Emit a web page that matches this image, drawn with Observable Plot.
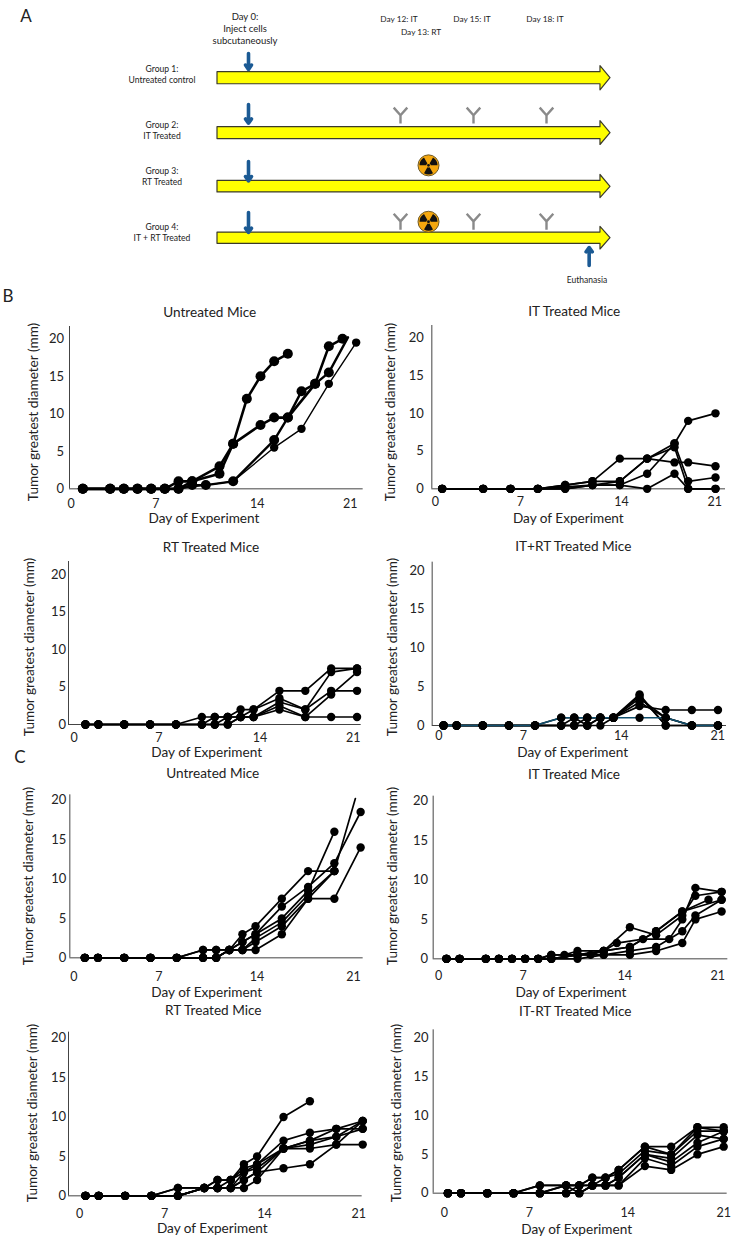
<!DOCTYPE html>
<html><head><meta charset="utf-8">
<script src="https://cdn.jsdelivr.net/npm/d3@7"></script>
<script src="https://cdn.jsdelivr.net/npm/@observablehq/plot@0.6"></script>
<style>
html,body{margin:0;padding:0;background:#fff}
#root{position:relative;width:735px;height:1240px;overflow:hidden;font-family:Lato,"Noto Sans",sans-serif;color:#222}
.t{position:absolute;white-space:nowrap;line-height:1;transform:translate(-50%,-50%)}
</style></head><body><div id="root"></div>
<script>
// ---------- Panel A: treatment schedule ----------
const groupNames = [["Group 1:","Untreated control"],["Group 2:","IT Treated"],["Group 3:","RT Treated"],["Group 4:","IT + RT Treated"]];
const groups = [1,2,3,4];
const injectDay = 0;
const itDays = [12,15,18];
const rtDay = 13;
const euthanasiaDay = 20;
const itGroups = [2,4];
const rtGroups = [3,4];
const rtLift = [.4,.32];
const arrowOutline = [{day:-2.5,half:.11},{day:20.53,half:.11},{day:20.53,half:.22},{day:21,half:0}];
const injectTop = [.45,.52,.47,.5];
const injectEnd = [.16,.18,.11,.11];

// ---------- Panels B and C: tumor diameter per mouse (mm) ----------
const b1Days = [1,3,4,5,6,7,8,9,10,11,12,13,14,15,16,17,18,19,20,20.4,21];
const b1Mice = [
 [0,0,0,0,0,0,1,1,null,3,6,12,15,17,18,null,null,null,null,null,null],
 [0,0,0,0,0,0,0,1,null,2,6,null,8.5,9.5,9.5,null,14,19,20,null,null],
 [0,0,0,0,0,0,0,.5,.5,null,1,null,null,6.5,9.5,13,14,15.5,null,20.2,null],
 [0,0,0,0,0,0,0,null,.5,null,1,null,null,5.5,null,8,null,14,null,null,19.5]];
const b2Days = [1,4,6,8,10,12,14,16,18,19,21];
const b2Mice = [
 [0,0,0,0,.5,1,4,4,5.5,0,0],
 [0,0,0,0,.25,.5,1,4,3.5,3.5,3],
 [0,0,0,0,0,.5,.5,2,6,9,10],
 [0,0,0,0,0,.5,.5,0,2,0,0],
 [0,0,0,0,.5,1,1,4,6,1,1.5]];
const b3Days = [1,2,4,6,8,10,11,12,13,14,16,18,20,22];
const b3Mice = [
 [0,0,0,0,0,1,1,1,2,2,4.5,4.5,7.5,7.5],
 [0,0,0,0,0,0,1,1,1,2,3.5,2,7,7.5],
 [0,0,0,0,0,0,0,1,1,1,3,2,4.5,4.5],
 [0,0,0,0,0,0,0,0,1,1,2.5,1,4,7],
 [0,0,0,0,0,0,0,0,1,1,2,1,1,1]];
const b4Days = [1,2,4,6,8,10,11,12,13,14,16,18,20,22];
const b4Mice = [
 [0,0,0,0,0,1,1,1,1,1,2.5,2,2,2],
 [0,0,0,0,0,0,0,1,1,1,4,0,0,0],
 [0,0,0,0,0,0,0,0,0,1,3.5,1,0,0],
 [0,0,0,0,0,0,0,0,1,1,3.8,0,0,0],
 [0,0,0,0,0,0,1,0,1,1,3,1,0,0],
 [0,0,0,0,0,1,1,1,1,1,1,1,0,0]];
const c1Days = [1,2,4,6,8,10,11,12,13,14,16,18,20,21.6,22];
const c1Mice = [
 [0,0,0,0,0,1,1,1,3,4,7.5,11,11,null,null],
 [0,0,0,0,0,1,1,1,2,3,6.5,9,12,null,18.5],
 [0,0,0,0,0,0,0,1,2,3,5,8.5,16,null,null],
 [0,0,0,0,0,0,0,1,1,2.5,4.5,8,11,20.2,null],
 [0,0,0,0,0,0,0,1,1,2,4,7.5,7.5,null,14],
 [0,0,0,0,0,0,0,1,1,1,3,7.5,11,null,null]];
const c2Days = [1,2,4,5,6,7,8,9,10,11,12,13,14,15,16,17,18,19,20,21,22];
const c2Mice = [
 [0,0,0,0,0,0,0,.5,.5,1,null,1,null,4,null,3,null,5.5,8,null,8.5],
 [0,0,0,0,0,0,0,.5,null,.5,null,1,2,null,2.5,null,2.5,5,9,null,8.5],
 [0,0,0,0,0,0,0,0,null,.5,null,1,null,1.5,null,3.5,null,6,null,7.5,null],
 [0,0,0,0,0,0,0,0,null,.5,null,.5,null,1,null,1.5,null,3.5,5.5,null,7.5],
 [0,0,0,0,0,0,0,0,null,0,null,.5,null,.5,null,1,null,2,5,null,6],
 [0,0,0,0,0,0,0,0,null,.5,.5,1,null,1.5,null,3.5,null,6,null,null,7.5]];
const c3Days = [1,2,4,6,8,10,11,12,13,14,16,18,20,22];
const c3Mice = [
 [0,0,0,0,1,1,2,2,4,5,10,12,null,null],
 [0,0,0,0,1,1,2,2,3.5,4,7,8,8.5,8.5],
 [0,0,0,0,0,1,1,2,3,4,6,7,8.5,9.5],
 [0,0,0,0,0,1,1,1,3,3.5,6,6.5,7.5,9.5],
 [0,0,0,0,0,1,1,1,2,3,6,6,6.5,6.5],
 [0,0,0,0,0,1,1,1,2,3,3.5,4,6.5,9.5],
 [0,0,0,0,0,1,1,1,1,2,6,7,7.5,8.5]];
const c4Days = [1,2,4,6,8,10,11,12,13,14,16,18,20,22];
const c4Mice = [
 [0,0,0,0,1,1,1,2,2,3,6,6,8.5,8.5],
 [0,0,0,0,1,1,1,2,2,3,6,5,8.5,8],
 [0,0,0,0,0,1,1,1,2,2.5,5.5,5,8,8],
 [0,0,0,0,0,1,0,1,1,2,5,4.5,7.5,7],
 [0,0,0,0,0,0,1,1,1,2,5,4,6.5,8],
 [0,0,0,0,0,0,0,1,1,1,4.5,3.5,6,7],
 [0,0,0,0,0,0,0,1,1,1,3.5,3,5,6]];

const xLabels = ["0","7","14","21"];
const yTicks = [0,5,10,15,20];
const yName = "Tumor greatest diameter (mm)";
const xName = "Day of Experiment";

const root = document.getElementById("root");
function label(text,x,y,size,rot){
  const d=document.createElement("div");d.className="t";d.textContent=text;
  d.style.left=x+"px";d.style.top=y+"px";d.style.fontSize=size+"px";
  if(rot)d.style.transform="translate(-50%,-50%) rotate(-90deg)";
  root.appendChild(d);
}

// ---------- Panel A drawing ----------
const antibody = {draw(c,size){const r=Math.sqrt(size/Math.PI);
  c.moveTo(0,r);c.lineTo(0,-r*.05);c.moveTo(-r*.85,-r);c.lineTo(0,-r*.05);c.lineTo(r*.85,-r);}};
const trefoil = {draw(c,size){const r=Math.sqrt(size/Math.PI),a=Math.PI/6,ri=r*.24;
  for(const m of [Math.PI/2,Math.PI*7/6,Math.PI*11/6]){
    c.moveTo(ri*Math.cos(m-a),ri*Math.sin(m-a));
    c.arc(0,0,r,m-a,m+a);
    c.arc(0,0,ri,m+a,m-a,true);
    c.closePath();
  }
  c.moveTo(r*.16,0);c.arc(0,0,r*.16,0,2*Math.PI);}};

const barRows = groups.flatMap(g=>arrowOutline.map(p=>({g,day:p.day,y1:g-p.half,y2:g+p.half})));
const itMarks = itGroups.flatMap(g=>itDays.map(day=>({g,day})));
const rtMarks = rtGroups.map((g,i)=>({g,day:rtDay,lift:rtLift[i]}));
const schedule = Plot.plot({
  width:735,height:295,margin:0,
  style:{position:"absolute",left:"0px",top:"0px",background:"transparent"},
  x:{type:"linear",domain:[-2.5,0,12,13,15,18,21],range:[217,248,400,428,473,546,610],axis:null},
  y:{type:"linear",domain:groups,range:[77.7,132.7,186.3,237.7],axis:null},
  marks:[
    Plot.area(barRows,{x1:"day",y1:"y1",y2:"y2",z:"g",fill:"#ffff00",stroke:"#3a3a2a",strokeWidth:1.2}),
    Plot.arrow(groups,{x:()=>injectDay,y1:(g,i)=>g-injectTop[i],y2:(g,i)=>g-injectEnd[i],stroke:"#1b5a94",strokeWidth:3.6,headLength:2.2,headAngle:70,bend:0,inset:0}),
    Plot.arrow([4],{x:()=>euthanasiaDay,y1:g=>g+.53,y2:g=>g+.18,stroke:"#1b5a94",strokeWidth:3.6,headLength:2.2,headAngle:70,bend:0,inset:0}),
    Plot.dot(itMarks,{x:"day",y:d=>d.g-.32,r:8,symbol:antibody,fill:"none",stroke:"#8a8a8a",strokeWidth:2.4}),
    Plot.dot(rtMarks,{x:"day",y:d=>d.g-d.lift,r:10.5,fill:"#f5a70e",stroke:"#6e5a28",strokeWidth:1}),
    Plot.dot(rtMarks,{x:"day",y:d=>d.g-d.lift,r:9,symbol:trefoil,fill:"#111",stroke:"none"})
  ]
});
root.appendChild(schedule);

label("A",26,15,17);
label("B",8,295,17);
label("C",20,756,17);
label("Day 0:",245,17,9.5);
label("Inject cells",245,29,9.5);
label("subcutaneously",245,41,9.5);
label("Day 12: IT",399,19,8.3);
label("Day 13: RT",421,32,8.3);
label("Day 15: IT",472,19,8.3);
label("Day 18: IT",545,19,8.3);
label("Euthanasia",587,280,8.5);
const gy=[[68.7,79.7],[125,136],[171,182],[227,238]];
groupNames.forEach((n,i)=>{label(n[0],162,gy[i][0],8.6);label(n[1],162,gy[i][1],8.6);});

// ---------- Growth panels ----------
// ox/oy: panel origin; ax: y-axis x; base: y of 0 mm; y20: y of 20 mm; d0/ppd: x of day 0 and px per day
function panel(o){
  const rows=o.mice.flatMap((vals,m)=>o.days.map((day,i)=>({mouse:m,day,mm:vals[i],
    w:(o.widths||[])[m]??o.w,r:(o.radii||[])[m]??o.r,c:(o.colors||[])[m]??"#000"})).filter(d=>d.mm!=null));
  const xr=[o.d0,o.d0+21*o.ppd];
  const tickMap=new Map(o.ticks.map((t,i)=>[t,xLabels[i]]));
  const W=368,H=236;
  const svg=Plot.plot({
    width:W,height:H,marginLeft:o.ax,marginTop:0,marginRight:0,marginBottom:H-o.base,
    style:{position:"absolute",left:o.ox+"px",top:o.oy+"px",background:"transparent",overflow:"visible"},
    x:{type:"linear",domain:[0,21],range:xr},
    y:{type:"linear",domain:[0,20],range:[o.base,o.y20]},
    color:{type:"identity"},
    marks:[
      Plot.ruleY([0],{x1:(o.ax-o.d0)/o.ppd,x2:(o.end-o.d0)/o.ppd,stroke:"#444",strokeWidth:1}),
      Plot.ruleX([(o.ax-o.d0)/o.ppd],{y1:0,y2:(o.base-o.top)/((o.base-o.y20)/20),stroke:"#444",strokeWidth:1}),
      Plot.axisY({anchor:"left",ticks:yTicks,tickSize:0,tickPadding:o.padY,label:null,fontSize:13,tickFormat:d=>String(d),fontFamily:"Lato",fill:"#222"}),
      Plot.axisX({anchor:"bottom",ticks:o.ticks,tickSize:0,tickPadding:o.padX-1.5,label:null,fontSize:12.5,tickFormat:d=>tickMap.get(d),fontFamily:"Lato",fill:"#222"}),
      Plot.line(rows,{x:"day",y:"mm",z:"mouse",stroke:"c",strokeWidth:"w",strokeLinejoin:"round",curve:"linear"}),
      Plot.dot(rows.filter(d=>d.mm<=20),{x:"day",y:"mm",r:{value:d=>d.r,scale:null},fill:"#000",stroke:"none"})
    ]
  });
  root.appendChild(svg);
  label(o.title,o.tx,o.ty,13.6);
  label(xName,o.xx,o.xy+1.5,13.6);
  label(yName,o.yx,o.yy,13.6,true);
}
const z=v=>v/3;
panel({title:"Untreated Mice",tx:209.7,ty:313.3,xx:204,xy:517.7,yx:34,yy:411.7,ox:0,oy:295,ax:z(207),top:z(93),base:z(580),y20:z(130),end:z(1088),d0:z(206),ppd:z(41),
  ticks:[.15,6.34,13.76,20.56],padX:12,padY:5.5,days:b1Days,mice:b1Mice,w:2.4,r:5,widths:[2.6,2.6,2.4,1.4],radii:[5,5,5,4.2]});
panel({title:"IT Treated Mice",tx:574.3,ty:312.3,xx:568.3,xy:517.7,yx:390.7,yy:411.7,ox:370,oy:295,ax:z(184),top:z(90),base:z(580),y20:z(127),end:z(1065),d0:z(174),ppd:z(41),
  ticks:[.51,6.73,14.12,20.95],padX:10,padY:8,days:b2Days,mice:b2Mice,w:1.7,r:4.2});
panel({title:"RT Treated Mice",tx:211,ty:548.3,xx:206.7,xy:751,yx:30,yy:646.7,ox:0,oy:530,ax:z(204),top:z(93),base:z(582),y20:z(133),end:z(1082),d0:z(216),ppd:z(38.8),
  ticks:[.13,6.67,14.5,21.7],padX:10,padY:2.5,days:b3Days,mice:b3Mice,w:1.7,r:4.2});
panel({title:"IT+RT Treated Mice",tx:573.3,ty:547.3,xx:572.7,xy:751,yx:392.7,yy:646.7,ox:370,oy:530,ax:z(185),top:z(95),base:z(585),y20:z(120),end:z(1068),d0:z(180),ppd:z(39.2),
  ticks:[.64,7.1,14.6,21.99],padX:7,padY:7.5,days:b4Days,mice:b4Mice,w:1.7,r:4.2,colors:[,,,,,"#12506e"]});
panel({title:"Untreated Mice",tx:212.7,ty:774,xx:206.7,xy:991,yx:29.3,yy:876,ox:0,oy:765,ax:z(208),top:z(88),base:z(577),y20:z(104),end:z(1088),d0:z(213.6),ppd:z(39.4),
  ticks:[.16,6.63,14.1,21.45],padX:16,padY:3.5,days:c1Days,mice:c1Mice,w:1.7,r:4.2});
panel({title:"IT Treated Mice",tx:574,ty:775,xx:571,xy:991,yx:392.7,yy:876,ox:370,oy:765,ax:z(188),top:z(92),base:z(580),y20:z(107),end:z(1072),d0:z(188.7),ppd:z(39.3),
  ticks:[.39,6.85,14.6,21.7],padX:14,padY:5,days:c2Days,mice:c2Mice,w:1.7,r:4.2});
panel({title:"RT Treated Mice",tx:213.3,ty:1011.3,xx:212.3,xy:1227.7,yx:33.3,yy:1112.7,ox:0,oy:1000,ax:z(204),top:z(95),base:z(586),y20:z(113),end:z(1085),d0:z(215.4),ppd:z(39.6),
  ticks:[.55,6.99,14.56,21.7],padX:14.5,padY:2.5,days:c3Days,mice:c3Mice,w:1.7,r:4.2});
panel({title:"IT-RT Treated Mice",tx:575.3,ty:1012.3,xx:576.7,xy:1228.3,yx:396.7,yy:1112.7,ox:370,oy:1000,ax:z(188),top:z(88),base:z(578),y20:z(113),end:z(1070),d0:z(192.8),ppd:z(39.4),
  ticks:[.74,7.2,14.7,22],padX:16,padY:4.5,days:c4Days,mice:c4Mice,w:1.7,r:4.2});
</script></body></html>
